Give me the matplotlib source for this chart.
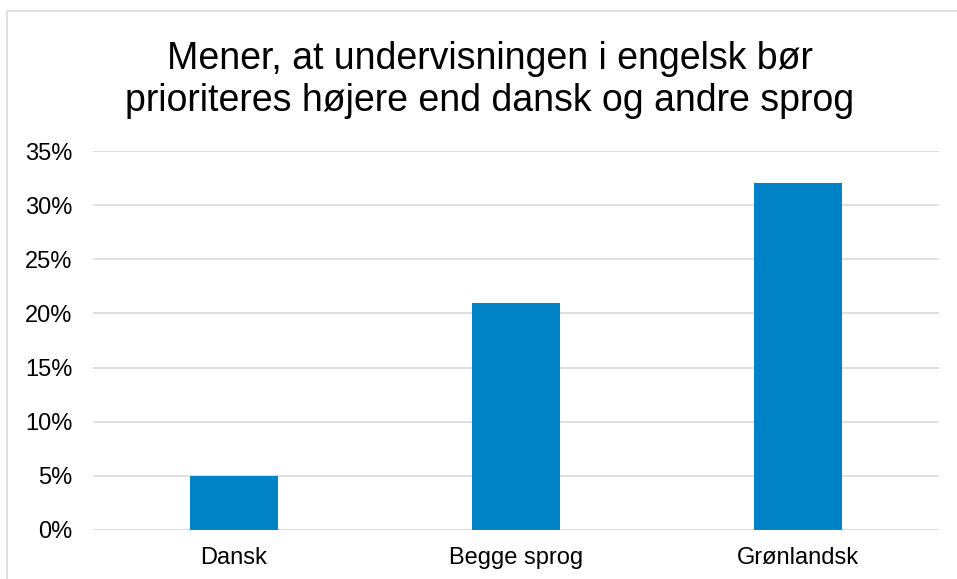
import matplotlib
matplotlib.use("Agg")
import matplotlib.pyplot as plt
from matplotlib.patches import Rectangle
from matplotlib.ticker import FuncFormatter

plt.rcParams['font.family'] = ['Liberation Sans', 'DejaVu Sans']

categories = ["Dansk", "Begge sprog", "Grønlandsk"]
values = [5, 21, 32]
y_ticks = [0, 5, 10, 15, 20, 25, 30, 35]
title = "Mener, at undervisningen i engelsk bør\nprioriteres højere end dansk og andre sprog"

W, H = 957, 579
fig = plt.figure(figsize=(W / 100, H / 100), dpi=100)

# outer chart frame (runs off the right and bottom edges)
fig.patches.append(Rectangle((7 / W, -0.1), 1.2, 1.1 - 11 / H, transform=fig.transFigure,
                             fill=False, edgecolor="#d9d9d9", linewidth=1.2))

ax = fig.add_axes([93 / W, 1 - 530 / H, 846 / W, 379 / H])
x = range(len(categories))
ax.bar(x, values, width=0.312, color="#0082c6", zorder=3)
ax.set_xlim(-0.5, len(categories) - 0.5)
ax.set_ylim(0, 35)
ax.set_yticks(y_ticks)
ax.yaxis.set_major_formatter(FuncFormatter(lambda v, p: f"{v:.0f}%"))
ax.set_xticks(list(x))
ax.set_xticklabels(categories)
ax.grid(axis="y", color="#d9d9d9", linewidth=1.2, zorder=0)
for s in ax.spines.values():
    s.set_visible(False)
ax.tick_params(axis="both", length=0, labelsize=17, colors="black")
ax.tick_params(axis="y", pad=15)
ax.tick_params(axis="x", pad=12)

fig.text(490 / W, 1 - 80 / H, title, ha="center", va="center", fontsize=27, linespacing=1.2)

fig.savefig("out.png", dpi=100)
